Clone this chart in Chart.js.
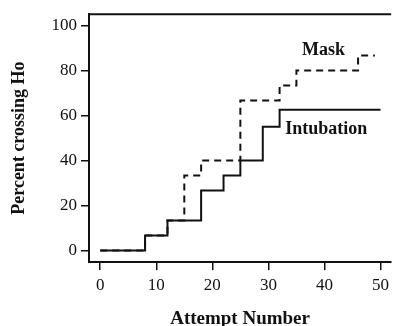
<!DOCTYPE html>
<html>
<head>
<meta charset="utf-8">
<script src="https://cdn.jsdelivr.net/npm/chart.js@4"></script>
<style>
    html, body { margin: 0; padding: 0; background: #fff; }
    #wrap { width: 394px; height: 326px; }
</style>
</head>
<body>
<div id="wrap"><canvas id="attemptChart" width="394" height="326"></canvas></div>
<script>
const xTicks = [0, 10, 20, 30, 40, 50];
const yTicks = [0, 20, 40, 60, 80, 100];

// step points: x where a new level starts, y is that level
const intubationX = [0, 8, 12, 18, 22, 25, 29, 32, 50];
const intubationY = [0, 6.67, 13.33, 26.67, 33.33, 40, 55, 62.5, 62.5];
const maskX = [0, 8, 12, 15, 18, 25, 32, 35, 46, 49];
const maskY = [0, 6.67, 13.33, 33.33, 40, 66.67, 73.33, 80, 86.67, 86.67];

const seriesLabels = [
    { text: "Mask", x: 36, y: 89 },
    { text: "Intubation", x: 33, y: 54 }
];

const serif = "'Liberation Serif', 'DejaVu Serif', serif";

function toPoints(xs, ys) {
    return xs.map((x, i) => ({ x: x, y: ys[i] }));
}

const framePlugin = {
    id: "frame",
    afterDraw(chart) {
        const { ctx, chartArea, scales } = chart;
        ctx.save();
        ctx.strokeStyle = "#111";
        ctx.lineWidth = 2;
        ctx.beginPath();
        ctx.moveTo(chartArea.left - 1, chartArea.top);
        ctx.lineTo(chartArea.right, chartArea.top);
        ctx.stroke();

        ctx.fillStyle = "#111";
        ctx.font = "bold 18px " + serif;
        ctx.textAlign = "left";
        ctx.textBaseline = "middle";
        seriesLabels.forEach((l) => {
            ctx.fillText(l.text, scales.x.getPixelForValue(l.x), scales.y.getPixelForValue(l.y));
        });
        ctx.restore();
    }
};

const ctx = document.getElementById("attemptChart");

new Chart(ctx, {
    type: "line",
    data: {
        datasets: [{
            label: "Intubation",
            data: toPoints(intubationX, intubationY),
            borderColor: "#111",
            borderWidth: 2,
            stepped: true,
            pointRadius: 0,
            fill: false,
            order: 0
        }, {
            label: "Mask",
            data: toPoints(maskX, maskY),
            borderColor: "#111",
            borderWidth: 2,
            borderDash: [7, 5],
            stepped: true,
            pointRadius: 0,
            fill: false,
            order: 1
        }]
    },
    options: {
        responsive: false,
        animation: false,
        layout: { padding: { top: 11, right: 0, left: 0, bottom: 0 } },
        plugins: {
            legend: { display: false },
            tooltip: { enabled: false }
        },
        scales: {
            x: {
                type: "linear",
                min: -2,
                max: 51.9,
                afterBuildTicks: (scale) => {
                    scale.ticks = xTicks.map((v) => ({ value: v }));
                },
                afterFit: (scale) => { scale.height = 64; },
                grid: {
                    drawOnChartArea: false,
                    drawTicks: true,
                    tickLength: 8,
                    color: "#111",
                    lineWidth: 1.5
                },
                border: { display: true, color: "#111", width: 2 },
                ticks: {
                    color: "#111",
                    padding: 5,
                    maxRotation: 0,
                    font: { family: serif, size: 17 }
                },
                title: {
                    display: true,
                    text: "Attempt Number",
                    color: "#111",
                    padding: { top: 0, bottom: -4 },
                    font: { family: serif, size: 19, weight: "bold" }
                }
            },
            y: {
                min: -5.1,
                max: 105,
                afterBuildTicks: (scale) => {
                    scale.ticks = yTicks.map((v) => ({ value: v }));
                },
                afterFit: (scale) => { scale.width = 89; },
                grid: {
                    drawOnChartArea: false,
                    drawTicks: true,
                    tickLength: 8,
                    color: "#111",
                    lineWidth: 1.5
                },
                border: { display: true, color: "#111", width: 2 },
                ticks: {
                    color: "#111",
                    padding: 4,
                    font: { family: serif, size: 17 }
                },
                title: {
                    display: true,
                    text: "Percent crossing Ho",
                    color: "#111",
                    padding: { top: 9, bottom: 0 },
                    font: { family: serif, size: 18, weight: "bold" }
                }
            }
        }
    },
    plugins: [framePlugin]
});
</script>
</body>
</html>
